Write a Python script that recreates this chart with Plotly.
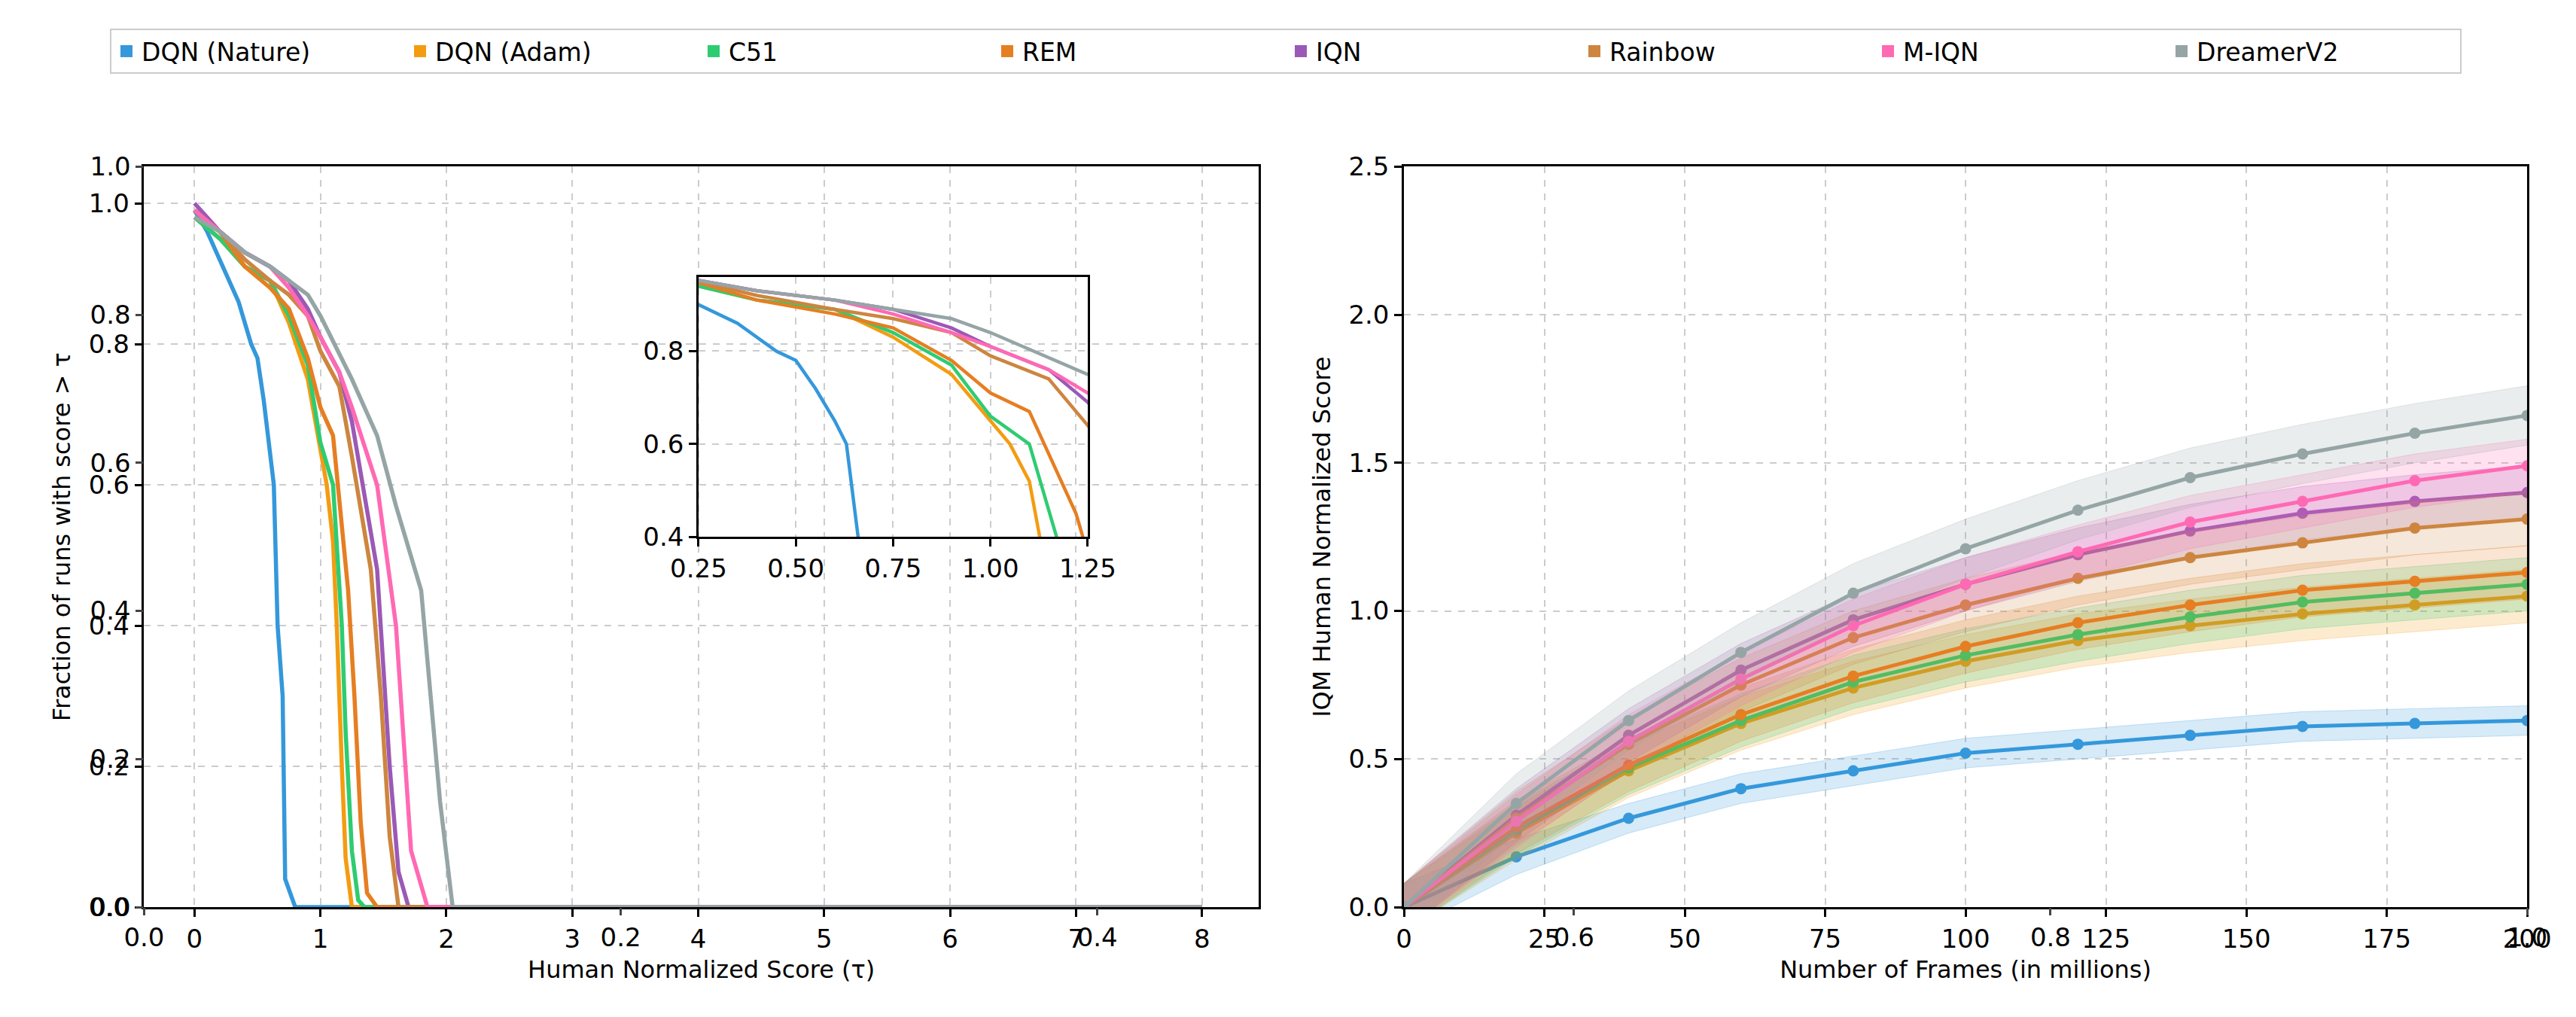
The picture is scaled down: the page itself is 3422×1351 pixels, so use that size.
import plotly.graph_objects as go

algos = ["DQN (Nature)", "DQN (Adam)", "C51", "REM", "IQN", "Rainbow", "M-IQN", "DreamerV2"]
colors = ["#3498db", "#f39c12", "#2ecc71", "#e67e22", "#9b59b6", "#cd853f", "#ff69b4", "#95a5a6"]

# score distributions: tau points and fraction of runs with score > tau
tau = {
    "DQN (Nature)": [0, 0.1, 0.2, 0.35, 0.45, 0.5, 0.55, 0.6, 0.63, 0.66, 0.7, 0.72, 0.8, 8.0],
    "DQN (Adam)": [0, 0.2, 0.4, 0.6, 0.75, 0.9, 1.0, 1.05, 1.1, 1.13, 1.17, 1.2, 1.25, 8.0],
    "C51": [0, 0.2, 0.4, 0.6, 0.75, 0.9, 1.0, 1.1, 1.17, 1.2, 1.25, 1.3, 1.35, 8.0],
    "REM": [0, 0.2, 0.4, 0.6, 0.75, 0.9, 1.0, 1.1, 1.22, 1.27, 1.32, 1.37, 1.45, 8.0],
    "IQN": [0, 0.2, 0.4, 0.6, 0.75, 0.9, 1.0, 1.15, 1.25, 1.45, 1.55, 1.62, 1.7, 8.0],
    "Rainbow": [0, 0.2, 0.4, 0.6, 0.75, 0.9, 1.0, 1.15, 1.25, 1.4, 1.48, 1.55, 1.62, 8.0],
    "M-IQN": [0, 0.2, 0.4, 0.6, 0.75, 0.9, 1.0, 1.15, 1.25, 1.45, 1.6, 1.72, 1.85, 8.0],
    "DreamerV2": [0, 0.2, 0.4, 0.6, 0.75, 0.9, 1.0, 1.25, 1.45, 1.6, 1.8, 1.95, 2.05, 8.0],
}
frac = {
    "DQN (Nature)": [0.99, 0.96, 0.92, 0.86, 0.80, 0.78, 0.72, 0.65, 0.6, 0.40, 0.3, 0.04, 0.0, 0.0],
    "DQN (Adam)": [0.98, 0.95, 0.91, 0.89, 0.83, 0.75, 0.65, 0.6, 0.52, 0.4, 0.2, 0.07, 0.0, 0.0],
    "C51": [0.98, 0.95, 0.91, 0.89, 0.84, 0.77, 0.66, 0.6, 0.4, 0.25, 0.08, 0.01, 0.0, 0.0],
    "REM": [0.99, 0.96, 0.91, 0.88, 0.85, 0.78, 0.71, 0.67, 0.45, 0.3, 0.12, 0.02, 0.0, 0.0],
    "IQN": [1.0, 0.96, 0.93, 0.91, 0.89, 0.85, 0.81, 0.76, 0.69, 0.48, 0.2, 0.05, 0.0, 0.0],
    "Rainbow": [0.99, 0.96, 0.92, 0.89, 0.87, 0.84, 0.79, 0.74, 0.64, 0.48, 0.3, 0.1, 0.0, 0.0],
    "M-IQN": [0.99, 0.96, 0.93, 0.91, 0.88, 0.84, 0.81, 0.76, 0.71, 0.6, 0.4, 0.08, 0.0, 0.0],
    "DreamerV2": [0.98, 0.96, 0.93, 0.91, 0.89, 0.87, 0.84, 0.75, 0.67, 0.57, 0.45, 0.15, 0.0, 0.0],
}

frames = [0, 20, 40, 60, 80, 100, 120, 140, 160, 180, 200]
iqm = {
    "DQN (Nature)": [0, 0.17, 0.30, 0.40, 0.46, 0.52, 0.55, 0.58, 0.61, 0.62, 0.63],
    "DQN (Adam)": [0, 0.25, 0.46, 0.62, 0.74, 0.83, 0.90, 0.95, 0.99, 1.02, 1.05],
    "C51": [0, 0.26, 0.47, 0.63, 0.76, 0.85, 0.92, 0.98, 1.03, 1.06, 1.09],
    "REM": [0, 0.27, 0.48, 0.65, 0.78, 0.88, 0.96, 1.02, 1.07, 1.10, 1.13],
    "IQN": [0, 0.31, 0.58, 0.80, 0.97, 1.09, 1.19, 1.27, 1.33, 1.37, 1.40],
    "Rainbow": [0, 0.30, 0.55, 0.75, 0.91, 1.02, 1.11, 1.18, 1.23, 1.28, 1.31],
    "M-IQN": [0, 0.29, 0.56, 0.77, 0.95, 1.09, 1.20, 1.30, 1.37, 1.44, 1.49],
    "DreamerV2": [0, 0.35, 0.63, 0.86, 1.06, 1.21, 1.34, 1.45, 1.53, 1.60, 1.66],
}
ci_half = {
    "DQN (Nature)": [0.08, 0.06, 0.05, 0.05, 0.05, 0.05, 0.05, 0.05, 0.05, 0.05, 0.05],
    "DQN (Adam)": [0.08, 0.09, 0.09, 0.09, 0.09, 0.09, 0.09, 0.09, 0.09, 0.09, 0.09],
    "C51": [0.08, 0.09, 0.09, 0.09, 0.09, 0.09, 0.09, 0.09, 0.09, 0.09, 0.09],
    "REM": [0.08, 0.09, 0.09, 0.09, 0.09, 0.09, 0.09, 0.09, 0.09, 0.09, 0.09],
    "IQN": [0.08, 0.09, 0.09, 0.09, 0.09, 0.09, 0.09, 0.09, 0.09, 0.09, 0.09],
    "Rainbow": [0.08, 0.09, 0.09, 0.09, 0.09, 0.09, 0.09, 0.09, 0.09, 0.09, 0.09],
    "M-IQN": [0.08, 0.09, 0.09, 0.09, 0.09, 0.09, 0.09, 0.09, 0.09, 0.09, 0.09],
    "DreamerV2": [0.08, 0.1, 0.1, 0.1, 0.1, 0.1, 0.1, 0.1, 0.1, 0.1, 0.1],
}


def rgba(hexc, a):
    h = hexc.lstrip("#")
    return f"rgba({int(h[0:2],16)},{int(h[2:4],16)},{int(h[4:6],16)},{a})"


fig = go.Figure()

# background axes (0..1 ticks showing through)
fig.add_trace(go.Scatter(x=[0, 1], y=[0, 1], mode="markers", marker=dict(opacity=0),
                         xaxis="x4", yaxis="y4", showlegend=False, hoverinfo="skip"))

for a, c in zip(algos, colors):
    # legend patches
    fig.add_trace(go.Scatter(x=[None], y=[None], name=a, mode="markers",
                             marker=dict(symbol="square", size=30, color=c), showlegend=True))
    fig.add_trace(go.Scatter(x=tau[a], y=frac[a], mode="lines", line=dict(color=c, width=5.5),
                             xaxis="x", yaxis="y", showlegend=False))
    fig.add_trace(go.Scatter(x=tau[a], y=frac[a], mode="lines", line=dict(color=c, width=4.5),
                             xaxis="x3", yaxis="y3", showlegend=False))
    lo = [v - h for v, h in zip(iqm[a], ci_half[a])]
    hi = [v + h for v, h in zip(iqm[a], ci_half[a])]
    fig.add_trace(go.Scatter(x=frames + frames[::-1], y=hi + lo[::-1], fill="toself",
                             fillcolor=rgba(c, 0.2), line=dict(color=rgba(c, 0.25), width=1),
                             xaxis="x2", yaxis="y2", showlegend=False, hoverinfo="skip"))
    fig.add_trace(go.Scatter(x=frames, y=iqm[a], mode="lines+markers", line=dict(color=c, width=5),
                             marker=dict(size=15, color=c), xaxis="x2", yaxis="y2", showlegend=False))

tickfont = dict(size=34, color="black")
common = dict(showline=True, linecolor="black", linewidth=2.5, mirror=True, ticks="outside",
              ticklen=10, tickwidth=2.5, tickcolor="black", tickfont=tickfont, zeroline=False,
              showgrid=True, gridcolor="#cccccc", griddash="dash", gridwidth=2)

fig.update_layout(
    width=3422, height=1351, plot_bgcolor="rgba(0,0,0,0)", paper_bgcolor="white",
    font=dict(family="DejaVu Sans", size=32, color="black"),
    margin=dict(l=100, r=30, t=60, b=120),
    legend=dict(orientation="h", x=0.489, y=1.0, xanchor="center", yanchor="middle",
                bordercolor="#cccccc", borderwidth=2, font=dict(size=33),
                entrywidth=345, entrywidthmode="pixels"),
    xaxis4=dict(domain=[0.0255, 0.993], range=[0, 1], anchor="y4", showgrid=False, zeroline=False,
                tickvals=[0, 0.2, 0.4, 0.6, 0.8, 1.0], ticktext=["0.0", "0.2", "0.4", "0.6", "0.8", "1.0"],
                ticks="outside", ticklen=10, tickwidth=2.5, tickfont=tickfont),
    yaxis4=dict(domain=[0.029, 0.869], range=[0, 1], anchor="x4", showgrid=False, zeroline=False,
                tickvals=[0, 0.2, 0.4, 0.6, 0.8, 1.0], ticktext=["0.0", "0.2", "0.4", "0.6", "0.8", "1.0"],
                ticks="outside", ticklen=10, tickwidth=2.5, tickfont=tickfont),
    xaxis=dict(common, domain=[0.0255, 0.478], range=[-0.4, 8.45], anchor="y", dtick=1,
               title=dict(text="Human Normalized Score (τ)", font=dict(size=32), standoff=12)),
    yaxis=dict(common, domain=[0.029, 0.869], range=[0, 1.052], anchor="x",
               tickvals=[0, 0.2, 0.4, 0.6, 0.8, 1.0], ticktext=["0.0", "0.2", "0.4", "0.6", "0.8", "1.0"],
               title=dict(text="Fraction of runs with score > τ", font=dict(size=32), standoff=15)),
    xaxis2=dict(common, domain=[0.537, 0.993], range=[0, 200], anchor="y2", dtick=25,
                title=dict(text="Number of Frames (in millions)", font=dict(size=32), standoff=12)),
    yaxis2=dict(common, domain=[0.029, 0.869], range=[0, 2.5], anchor="x2",
                tickvals=[0, 0.5, 1.0, 1.5, 2.0, 2.5], ticktext=["0.0", "0.5", "1.0", "1.5", "2.0", "2.5"],
                title=dict(text="IQM Human Normalized Score", font=dict(size=32), standoff=15)),
    xaxis3=dict(common, domain=[0.2506, 0.4086], range=[0.25, 1.25], anchor="y3",
                tickvals=[0.25, 0.5, 0.75, 1.0, 1.25], ticktext=["0.25", "0.50", "0.75", "1.00", "1.25"]),
    yaxis3=dict(common, domain=[0.449, 0.744], range=[0.4, 0.96], anchor="x3",
                tickvals=[0.4, 0.6, 0.8], ticktext=["0.4", "0.6", "0.8"]),
)

fig.add_shape(type="rect", xref="x3 domain", yref="y3 domain", x0=0, x1=1, y0=0, y1=1,
              fillcolor="white", line=dict(width=0), layer="below")

fig.write_html("out.html")
